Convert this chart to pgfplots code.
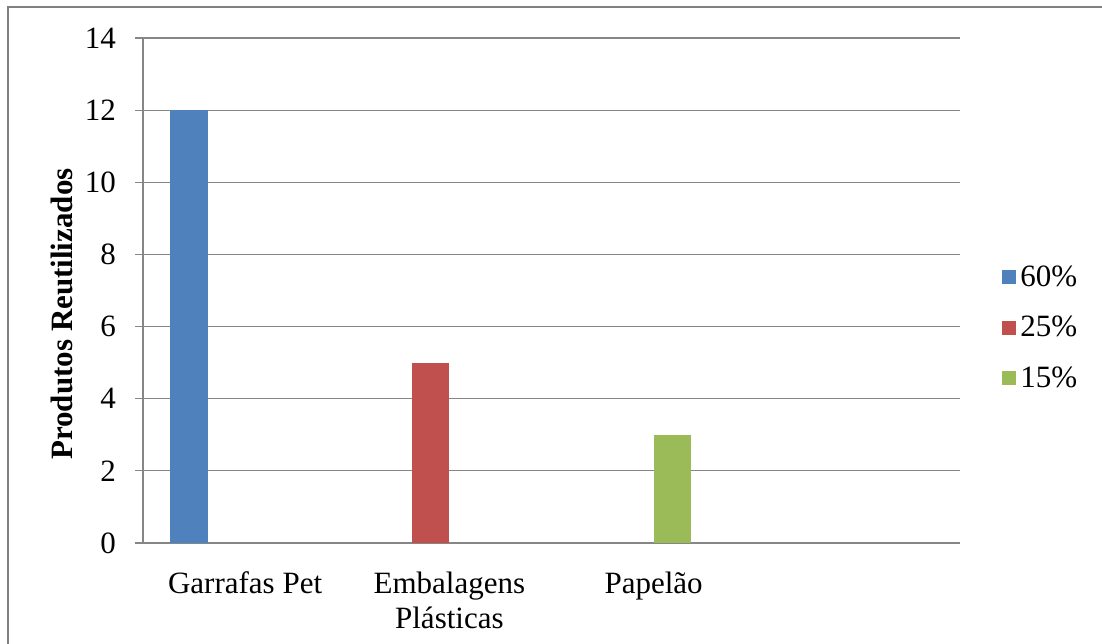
\documentclass[border=0pt]{standalone}
\usepackage{fontspec}
\setmainfont{Liberation Serif}
\usepackage{pgfplots}
\pgfplotsset{compat=1.18}
\definecolor{xblue}{HTML}{4F81BD}
\definecolor{xred}{HTML}{C0504D}
\definecolor{xgreen}{HTML}{9BBB59}
\definecolor{xgrid}{HTML}{868686}
\begin{document}
\begin{tikzpicture}
\path[use as bounding box] (0,0) rectangle (551pt,321.5pt);
\draw[line width=1pt, color=gray] (4pt,-5pt) -- (4pt,318pt) -- (560pt,318pt);
\begin{axis}[
  at={(71.5pt,50pt)}, anchor=south west,
  scale only axis, width=408.5pt, height=252.5pt,
  xmin=-0.5, xmax=3.5, ymin=0, ymax=14,
  ytick={0,2,...,14},
  xtick={0,1,2},
  xticklabels={Garrafas Pet, {Embalagens\\Plásticas}, Papelão},
  xticklabel style={align=center, yshift=-7pt},
  major x tick style={draw=none},
  extra x ticks={-0.5,0.5,1.5,2.5,3.5},
  extra x tick labels={},
  extra x tick style={grid=none, major tick length=8pt, tick style={draw=xgrid, line width=0.6pt}},
  axis x line*=bottom, axis y line*=left,
  axis line style={draw=xgrid, line width=0.6pt},
  tick align=outside, major tick length=4pt,
  y tick style={draw=xgrid, line width=0.6pt},
  ymajorgrids, grid style={draw=xgrid, line width=0.6pt},
  /pgf/number format/assume math mode=true,
  tick label style={font=\fontsize{15.5}{17.5}\selectfont},
  yticklabel style={xshift=-6pt},
  ylabel={\bfseries Produtos Reutilizados},
  ylabel style={font=\fontsize{15.5}{18}\selectfont, at={(axis description cs:-0.099,0.4535)}, anchor=center},
  legend style={at={(1.0515,0.426)}, anchor=west, draw=none, fill=none,
    font=\fontsize{15.5}{18}\selectfont, row sep=9.5pt, inner sep=0pt,
    /tikz/every even column/.append style={column sep=4pt}},
  legend cell align=left,
  clip=false,
]
\addplot[ybar, bar width=0.183, bar shift=0pt, fill=xblue, draw=none,
  legend image code/.code={\fill[xblue] (0pt,-3.5pt) rectangle (7pt,3.5pt);}]
  coordinates {(-0.2745,12)};
\addlegendentry{60\%}
\addplot[ybar, bar width=0.183, bar shift=0pt, fill=xred, draw=none,
  legend image code/.code={\fill[xred] (0pt,-3.5pt) rectangle (7pt,3.5pt);}]
  coordinates {(0.9075,5)};
\addlegendentry{25\%}
\addplot[ybar, bar width=0.183, bar shift=0pt, fill=xgreen, draw=none,
  legend image code/.code={\fill[xgreen] (0pt,-3.5pt) rectangle (7pt,3.5pt);}]
  coordinates {(2.0925,3)};
\addlegendentry{15\%}
\end{axis}
\end{tikzpicture}
\end{document}
